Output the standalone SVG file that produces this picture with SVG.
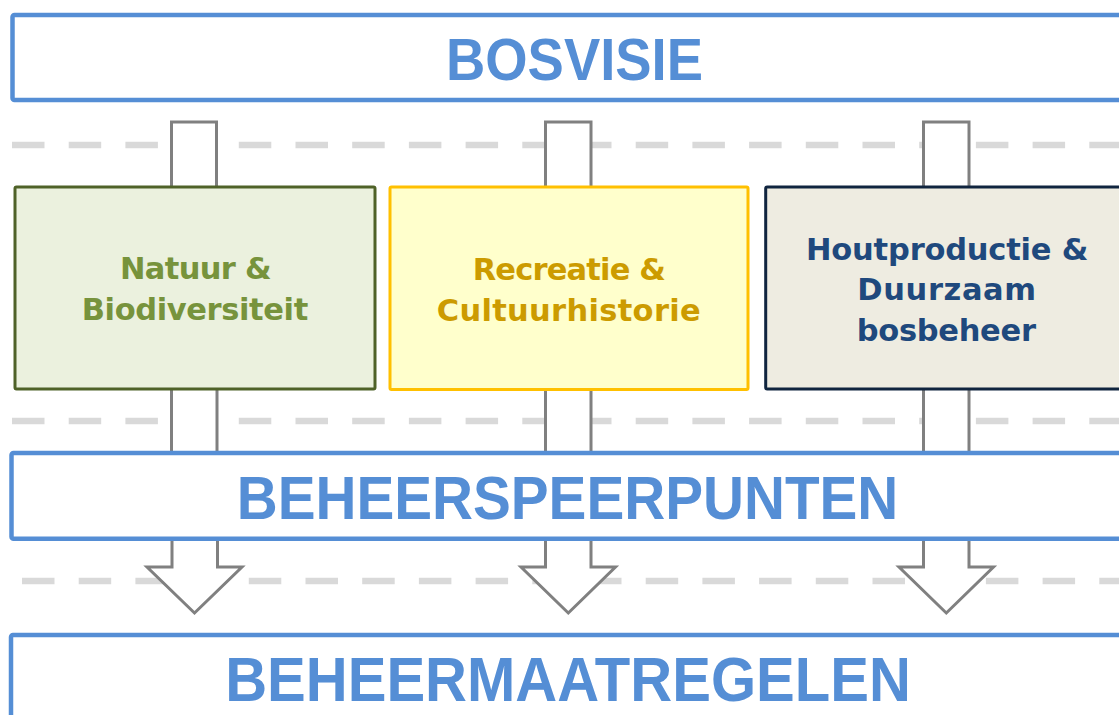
<svg xmlns="http://www.w3.org/2000/svg" width="1119" height="715" viewBox="0 0 1119 715">
<style>
.dash{stroke:#D9D9D9;stroke-width:6.5;stroke-dasharray:32.5 24.2;fill:none}
.shaft{fill:#FFFFFF;stroke:#808080;stroke-width:3}
.band{fill:#FFFFFF;stroke:#558ED5;stroke-width:4.5}
.big{font-family:"Liberation Sans",Arial,sans-serif;font-weight:bold;fill:#558ED5;text-anchor:middle}
.lbl{font-family:"DejaVu Sans",Verdana,sans-serif;font-weight:bold;font-size:30.5px;text-anchor:middle}
</style>
<rect width="1119" height="715" fill="#FFFFFF"/>
<g id="dashes">
<line class="dash" x1="12" y1="145" x2="1119" y2="145"/>
<line class="dash" x1="12" y1="421" x2="1119" y2="421"/>
<line class="dash" x1="22" y1="581" x2="1119" y2="581"/>
</g>
<g id="connectors">
<rect class="shaft" x="171.5" y="122" width="45" height="70"/>
<rect class="shaft" x="545.5" y="122" width="45.5" height="70"/>
<rect class="shaft" x="923.5" y="122" width="45.5" height="70"/>
<rect class="shaft" x="171.5" y="385" width="45.5" height="72"/>
<rect class="shaft" x="545.5" y="385" width="45.5" height="72"/>
<rect class="shaft" x="923.5" y="385" width="45.5" height="72"/>
<path class="shaft" d="M172,536 V567 H147 L194.5,613 L242,567 H217.5 V536"/>
<path class="shaft" d="M545.5,536 V567 H521 L568.3,613 L615.5,567 H591 V536"/>
<path class="shaft" d="M923.5,536 V567 H899 L946.3,613 L993.5,567 H969 V536"/>
</g>
<g id="bosvisie">
<rect class="band" x="12.5" y="15" width="1120" height="85" rx="2"/>
<text class="big" x="574.5" y="80" font-size="59" textLength="257" lengthAdjust="spacingAndGlyphs">BOSVISIE</text>
</g>
<g id="natuur">
<rect x="15" y="187" width="360" height="202" rx="1.5" fill="#EBF1DE" stroke="#4F6228" stroke-width="3"/>
<text class="lbl" fill="#77933C"><tspan x="195.8" y="278.5" textLength="151.7">Natuur &amp;</tspan><tspan x="195" y="319.5" textLength="226.6">Biodiversiteit</tspan></text>
</g>
<g id="recreatie">
<rect x="390" y="187" width="358" height="202.5" rx="1.5" fill="#FFFFCC" stroke="#FFC000" stroke-width="3"/>
<text class="lbl" fill="#CC9B00"><tspan x="569.3" y="280" textLength="193.3">Recreatie &amp;</tspan><tspan x="568.7" y="320.7" textLength="264">Cultuurhistorie</tspan></text>
</g>
<g id="houtproductie">
<rect x="765.7" y="187" width="370" height="202" rx="1.5" fill="#EEECE1" stroke="#10253F" stroke-width="3"/>
<text class="lbl" fill="#1F497D"><tspan x="947.2" y="260" textLength="282.3">Houtproductie &amp;</tspan><tspan x="946.7" y="300" textLength="178.7">Duurzaam</tspan><tspan x="946.3" y="340.7" textLength="179.3">bosbeheer</tspan></text>
</g>
<g id="beheerspeerpunten">
<rect class="band" x="11.5" y="453" width="1120" height="85.7" rx="2"/>
<text class="big" x="567.5" y="519.3" font-size="61" textLength="661.6" lengthAdjust="spacingAndGlyphs">BEHEERSPEERPUNTEN</text>
</g>
<g id="beheermaatregelen">
<rect class="band" x="11" y="635" width="1120" height="100" rx="2"/>
<text class="big" x="568" y="701" font-size="63" textLength="685.7" lengthAdjust="spacingAndGlyphs">BEHEERMAATREGELEN</text>
</g>
</svg>
